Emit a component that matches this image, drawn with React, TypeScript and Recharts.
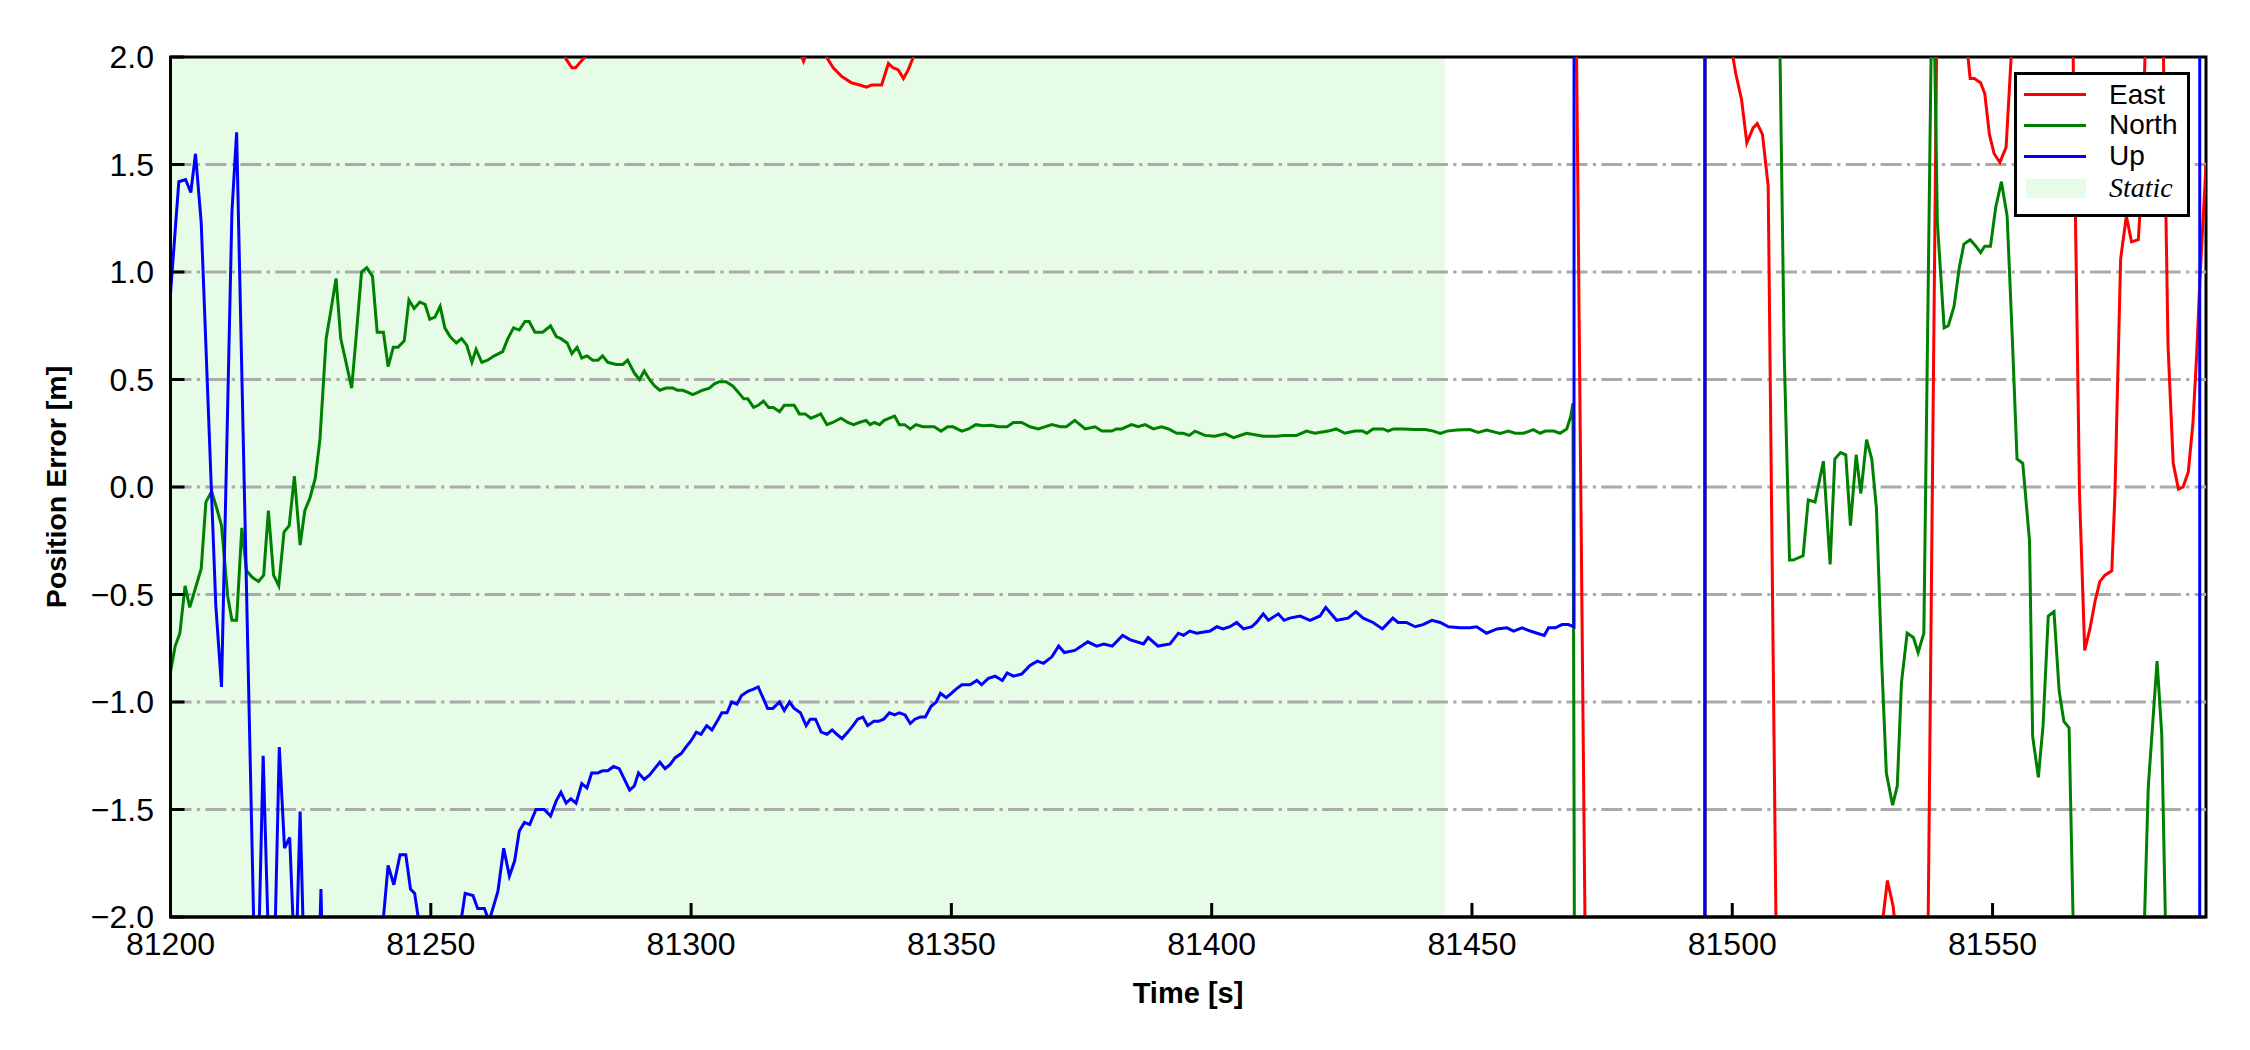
import React from "react";
import {
  LineChart,
  Line,
  XAxis,
  YAxis,
  ReferenceArea,
} from "recharts";

// time axis [s] and error axis [m]
const xTicks = [81200, 81250, 81300, 81350, 81400, 81450, 81500, 81550];
const yTicks = [-2, -1.5, -1, -0.5, 0, 0.5, 1, 1.5, 2];
const xDomain: [number, number] = [81200, 81591];
const staticSpan: [number, number] = [81200, 81444.8];

// East error, [t, m] (values past +-2 are off-scale)
const eastPts: [number, number][] = [
  [81200, 2.6], [81230, 2.4], [81260, 2.2], [81274.5, 2.06], [81276.0, 1.99],
  [81277.1, 1.95], [81277.8, 1.95], [81279.6, 2.0], [81282, 2.12], [81300, 2.3],
  [81316, 2.15], [81320.8, 2.03], [81321.6, 1.98], [81322.4, 2.03], [81324.5, 2.04],
  [81326.0, 2.0], [81327.3, 1.95], [81328.9, 1.91], [81330.8, 1.88], [81332.4, 1.87],
  [81333.7, 1.86], [81334.7, 1.87], [81336.6, 1.87], [81337.9, 1.97], [81338.8, 1.95],
  [81339.8, 1.94], [81340.8, 1.9], [81341.7, 1.94], [81342.7, 2.0], [81345, 2.2],
  [81370, 2.45], [81400, 2.5], [81440, 2.4], [81469.5, 2.3], [81470, 2.25],
  [81472, -2.75], [81480, -3.6], [81494.7, -30], [81494.8, 30], [81499.5, 2.1],
  [81500.2, 1.99], [81500.7, 1.92], [81501.8, 1.8], [81502.8, 1.6], [81504.0, 1.67],
  [81504.8, 1.69], [81505.8, 1.64], [81506.9, 1.4], [81509, -3.4], [81520, -3.8],
  [81528, -2.2], [81529.8, -1.83], [81530.9, -1.95], [81532, -2.2], [81537, -3.6],
  [81540, 3.9], [81544, 2.3], [81545.7, 1.9], [81546.5, 1.9], [81547.7, 1.88],
  [81548.5, 1.83], [81549.4, 1.64], [81550.3, 1.55], [81551.4, 1.51], [81552.6, 1.58],
  [81554.5, 2.4], [81560, 3.2], [81565, 2.8], [81566.7, -0.03], [81567.7, -0.76],
  [81568.7, -0.66], [81569.7, -0.53], [81570.6, -0.44], [81571.6, -0.41], [81572.9, -0.39],
  [81573.5, -0.04], [81574.6, 1.06], [81575.7, 1.26], [81576.7, 1.14], [81578.0, 1.15],
  [81578.6, 1.39], [81579.5, 2.2], [81581, 2.8], [81582.5, 2.5], [81583.7, 0.66],
  [81584.7, 0.11], [81585.7, -0.01], [81586.6, 0.0], [81587.6, 0.07], [81588.5, 0.3],
  [81589.2, 0.61], [81589.8, 0.95], [81591, 1.5],
];

// North error
const northPts: [number, number][] = [
  [81200, -0.86], [81200.9, -0.74], [81201.8, -0.68], [81202.8, -0.46], [81203.7, -0.56],
  [81204.8, -0.47], [81205.9, -0.38], [81206.8, -0.07], [81207.9, -0.02], [81208.9, -0.1],
  [81209.8, -0.18], [81211.0, -0.51], [81211.8, -0.62], [81212.7, -0.62], [81213.7, -0.19],
  [81214.6, -0.39], [81215.7, -0.42], [81216.9, -0.44], [81217.9, -0.41], [81218.8, -0.11],
  [81219.8, -0.41], [81220.8, -0.46], [81221.8, -0.21], [81222.8, -0.18], [81223.8, 0.05],
  [81224.9, -0.27], [81225.8, -0.11], [81226.8, -0.05], [81227.8, 0.04], [81228.7, 0.22],
  [81229.9, 0.69], [81230.8, 0.82], [81231.8, 0.97], [81232.7, 0.69], [81233.8, 0.57],
  [81234.8, 0.46], [81235.7, 0.71], [81236.7, 1.0], [81237.7, 1.02], [81238.8, 0.98],
  [81239.7, 0.72], [81240.9, 0.72], [81241.8, 0.56], [81242.8, 0.65], [81243.7, 0.65],
  [81244.9, 0.68], [81245.8, 0.87], [81246.8, 0.83], [81247.9, 0.86], [81248.9, 0.85],
  [81249.8, 0.78], [81250.8, 0.79], [81251.8, 0.84], [81252.7, 0.74], [81253.7, 0.7],
  [81254.9, 0.67], [81255.9, 0.69], [81256.9, 0.66], [81257.9, 0.58], [81258.7, 0.64],
  [81259.8, 0.58], [81260.9, 0.59], [81262.2, 0.61], [81263.8, 0.63], [81264.8, 0.69],
  [81265.9, 0.74], [81267.0, 0.73], [81268.1, 0.77], [81268.9, 0.77], [81270.0, 0.72],
  [81271.5, 0.72], [81273.0, 0.75], [81274.1, 0.7], [81275.0, 0.69], [81276.2, 0.67],
  [81277.1, 0.62], [81278.1, 0.65], [81279.0, 0.6], [81280.0, 0.61], [81281.1, 0.59],
  [81282.1, 0.59], [81283.0, 0.61], [81284.0, 0.58], [81285.6, 0.57], [81286.9, 0.57],
  [81287.8, 0.59], [81289.1, 0.53], [81290.1, 0.5], [81291.0, 0.54], [81292.0, 0.5],
  [81293.0, 0.47], [81294.0, 0.45], [81295.2, 0.46], [81296.5, 0.46], [81297.4, 0.45],
  [81298.4, 0.45], [81299.4, 0.44], [81300.3, 0.43], [81301.3, 0.44], [81302.2, 0.45],
  [81303.5, 0.46], [81304.5, 0.48], [81305.4, 0.49], [81306.7, 0.49], [81308.0, 0.47],
  [81309.1, 0.44], [81310.1, 0.41], [81310.9, 0.41], [81312.0, 0.37], [81312.9, 0.38],
  [81313.9, 0.4], [81314.9, 0.37], [81315.8, 0.37], [81317.0, 0.35], [81317.9, 0.38],
  [81318.9, 0.38], [81319.8, 0.38], [81320.8, 0.34], [81321.9, 0.34], [81323.0, 0.32],
  [81324.0, 0.33], [81324.9, 0.34], [81326.1, 0.29], [81327.2, 0.3], [81328.8, 0.32],
  [81330.1, 0.3], [81331.2, 0.29], [81332.3, 0.3], [81333.6, 0.31], [81334.4, 0.29],
  [81335.2, 0.3], [81336.2, 0.29], [81337.1, 0.31], [81338.1, 0.32], [81339.1, 0.33],
  [81340.0, 0.29], [81341.0, 0.29], [81342.1, 0.27], [81343.2, 0.29], [81344.5, 0.28],
  [81345.5, 0.28], [81346.7, 0.28], [81348.0, 0.26], [81349.3, 0.28], [81350.3, 0.28],
  [81352.0, 0.26], [81353.3, 0.27], [81354.7, 0.29], [81356.1, 0.285], [81357.7, 0.287],
  [81359.0, 0.28], [81360.7, 0.28], [81361.9, 0.3], [81363.5, 0.3], [81365.1, 0.28],
  [81366.7, 0.27], [81369.3, 0.29], [81370.9, 0.28], [81372.1, 0.28], [81373.7, 0.31],
  [81375.7, 0.27], [81377.6, 0.28], [81378.9, 0.26], [81380.8, 0.26], [81381.7, 0.27],
  [81382.7, 0.27], [81384.6, 0.29], [81385.9, 0.28], [81387.2, 0.29], [81388.8, 0.27],
  [81390.4, 0.28], [81391.7, 0.27], [81393.3, 0.25], [81394.5, 0.25], [81395.7, 0.24],
  [81396.8, 0.26], [81398.7, 0.24], [81400.6, 0.236], [81402.6, 0.247], [81404.2, 0.23],
  [81406.7, 0.25], [81409.9, 0.236], [81412.5, 0.236], [81413.8, 0.24], [81416.3, 0.24],
  [81418.2, 0.26], [81419.8, 0.25], [81422.4, 0.26], [81423.9, 0.27], [81425.6, 0.25],
  [81427.5, 0.26], [81429.0, 0.26], [81429.8, 0.25], [81431.0, 0.27], [81432.9, 0.27],
  [81433.9, 0.26], [81434.9, 0.27], [81436.8, 0.27], [81438.8, 0.267], [81441.0, 0.267],
  [81442.6, 0.26], [81443.9, 0.249], [81445.2, 0.26], [81447.1, 0.265], [81449.6, 0.267],
  [81451.2, 0.254], [81452.8, 0.265], [81455.4, 0.249], [81457.0, 0.26], [81458.3, 0.25],
  [81459.9, 0.25], [81461.8, 0.267], [81463.1, 0.25], [81464.1, 0.26], [81465.7, 0.26],
  [81466.9, 0.25], [81468.2, 0.27], [81469.0, 0.33], [81469.4, 0.39], [81470, -5],
  [81494.7, -30], [81494.8, 30], [81509, 2.3], [81510, 0.6], [81511, -0.34],
  [81511.7, -0.34], [81513.6, -0.32], [81514.6, -0.06], [81515.9, -0.07], [81517.5, 0.12],
  [81518.8, -0.36], [81519.7, 0.13], [81520.8, 0.16], [81521.8, 0.15], [81522.7, -0.18],
  [81523.8, 0.15], [81524.7, -0.03], [81525.8, 0.22], [81526.8, 0.13], [81527.7, -0.1],
  [81528.7, -0.81], [81529.6, -1.33], [81530.8, -1.48], [81531.7, -1.39], [81532.5, -0.91],
  [81533.6, -0.68], [81534.8, -0.7], [81535.7, -0.77], [81536.8, -0.68], [81538.5, 2.6],
  [81539.4, 1.23], [81540.7, 0.74], [81541.5, 0.75], [81542.6, 0.84], [81543.6, 1.02],
  [81544.5, 1.13], [81545.7, 1.15], [81546.8, 1.12], [81547.7, 1.09], [81548.5, 1.12],
  [81549.6, 1.12], [81550.6, 1.3], [81551.7, 1.42], [81552.8, 1.26], [81553.8, 0.69],
  [81554.7, 0.13], [81555.8, 0.11], [81557.1, -0.25], [81557.7, -1.16], [81558.8, -1.35],
  [81559.7, -1.11], [81560.7, -0.6], [81561.8, -0.58], [81562.8, -0.95], [81563.7, -1.09],
  [81564.7, -1.12], [81566.5, -3.2], [81572, -3.5], [81578.5, -2.6], [81579.9, -1.4],
  [81581.6, -0.81], [81582.5, -1.15], [81584, -3.0], [81591, -3.5],
];

// Up error
const upPts: [number, number][] = [
  [81200, 0.9], [81201.6, 1.42], [81202.9, 1.43], [81203.9, 1.37], [81204.8, 1.55],
  [81205.9, 1.23], [81208.7, -0.55], [81209.8, -0.93], [81211.8, 1.28], [81212.7, 1.65],
  [81216.5, -2.6], [81217.8, -1.25], [81219.5, -2.7], [81220.9, -1.21], [81221.9, -1.68],
  [81222.9, -1.63], [81224.0, -2.3], [81224.9, -1.51], [81226.3, -2.8], [81228.2, -2.5],
  [81228.9, -1.87], [81229.6, -2.6], [81233, -3.1], [81237, -2.9], [81239.8, -2.3],
  [81241.8, -1.76], [81242.9, -1.85], [81244.1, -1.71], [81245.2, -1.71], [81246.1, -1.87],
  [81246.9, -1.89], [81248.8, -2.2], [81252, -2.5], [81255.0, -2.15], [81256.6, -1.89],
  [81258.1, -1.9], [81259.0, -1.96], [81260.3, -1.96], [81261.2, -2.02], [81262.9, -1.88],
  [81264.0, -1.68], [81265.1, -1.81], [81266.1, -1.74], [81267.0, -1.6], [81268.0, -1.56],
  [81269.0, -1.57], [81270.2, -1.5], [81271.8, -1.5], [81273.0, -1.53], [81274.1, -1.46],
  [81275.0, -1.42], [81276.0, -1.47], [81276.9, -1.45], [81277.9, -1.47], [81279.0, -1.38],
  [81280.0, -1.4], [81280.9, -1.33], [81282.1, -1.33], [81283.0, -1.32], [81284.0, -1.32],
  [81285.1, -1.3], [81286.2, -1.31], [81287.2, -1.36], [81288.2, -1.41], [81289.1, -1.39],
  [81289.9, -1.33], [81291.0, -1.36], [81292.0, -1.34], [81293.0, -1.31], [81294.0, -1.28],
  [81295.0, -1.31], [81296.0, -1.29], [81296.9, -1.26], [81298.1, -1.24], [81299.0, -1.21],
  [81300.0, -1.18], [81301.0, -1.14], [81301.9, -1.15], [81303.0, -1.11], [81304.0, -1.13],
  [81305.0, -1.09], [81305.9, -1.05], [81306.9, -1.05], [81307.8, -1.0], [81308.8, -1.01],
  [81309.7, -0.97], [81310.9, -0.95], [81312.0, -0.94], [81312.9, -0.93], [81313.8, -0.98],
  [81314.7, -1.03], [81315.7, -1.03], [81317.0, -1.0], [81317.9, -1.04], [81318.9, -1.0],
  [81319.8, -1.03], [81321.0, -1.05], [81322.1, -1.11], [81322.9, -1.08], [81323.9, -1.08],
  [81325.0, -1.14], [81326.1, -1.15], [81327.1, -1.13], [81328.0, -1.15], [81329.0, -1.17],
  [81330.1, -1.14], [81331.1, -1.11], [81332.0, -1.08], [81333.0, -1.07], [81333.9, -1.11],
  [81335.1, -1.09], [81336.0, -1.09], [81337.0, -1.08], [81338.1, -1.05], [81339.1, -1.06],
  [81340.0, -1.05], [81341.1, -1.06], [81342.1, -1.1], [81343.0, -1.08], [81344.0, -1.07],
  [81345.0, -1.07], [81346.1, -1.02], [81347.1, -1.0], [81347.9, -0.96], [81349.0, -0.98],
  [81350.0, -0.96], [81350.9, -0.94], [81352.0, -0.92], [81353.6, -0.92], [81354.9, -0.9],
  [81355.8, -0.92], [81357.1, -0.89], [81358.4, -0.88], [81359.8, -0.9], [81360.7, -0.865],
  [81361.9, -0.88], [81363.5, -0.87], [81365.1, -0.83], [81366.5, -0.81], [81367.7, -0.82],
  [81369.3, -0.79], [81370.6, -0.74], [81371.7, -0.77], [81373.7, -0.76], [81375.0, -0.74],
  [81376.2, -0.72], [81377.9, -0.74], [81379.3, -0.73], [81380.9, -0.74], [81382.9, -0.69],
  [81384.3, -0.71], [81386.9, -0.73], [81387.8, -0.7], [81389.7, -0.74], [81392.0, -0.73],
  [81393.6, -0.68], [81394.6, -0.69], [81395.8, -0.67], [81397.1, -0.68], [81399.7, -0.67],
  [81401.0, -0.65], [81402.2, -0.66], [81403.5, -0.65], [81404.8, -0.63], [81406.1, -0.66],
  [81407.7, -0.65], [81408.6, -0.63], [81409.9, -0.59], [81410.9, -0.62], [81412.8, -0.59],
  [81413.9, -0.62], [81415.0, -0.61], [81417.0, -0.6], [81418.9, -0.62], [81420.8, -0.6],
  [81421.9, -0.56], [81424.0, -0.62], [81426.2, -0.61], [81427.7, -0.58], [81429.1, -0.61],
  [81431.0, -0.63], [81432.8, -0.66], [81434.8, -0.61], [81435.8, -0.63], [81437.4, -0.63],
  [81439.1, -0.65], [81440.6, -0.64], [81442.3, -0.62], [81443.9, -0.63], [81445.5, -0.65],
  [81447.7, -0.655], [81449.6, -0.655], [81450.9, -0.65], [81452.8, -0.68], [81454.8, -0.66],
  [81456.7, -0.655], [81458.0, -0.67], [81459.6, -0.655], [81461.2, -0.67], [81462.5, -0.68],
  [81463.9, -0.69], [81464.7, -0.655], [81466.0, -0.655], [81467.3, -0.64], [81468.5, -0.64],
  [81469.6, -0.65], [81469.7, 60], [81494.7, 60], [81494.8, -60], [81589.75, -60],
  [81589.85, 60], [81591, 60],
];

const toRows = (pts: [number, number][]) => pts.map(([t, v]) => ({ t, v }));

const series = [
  { name: "East", color: "#ff0000", data: toRows(eastPts) },
  { name: "North", color: "#008000", data: toRows(northPts) },
  { name: "Up", color: "#0000ff", data: toRows(upPts) },
];

// horizontal grid rows, drawn above the static shading and under the data
const gridRows = yTicks
  .filter((y) => Math.abs(y) < 2)
  .map((y) => ({ y, data: [{ t: xDomain[0], v: y }, { t: xDomain[1], v: y }] }));

const staticFill = "#e7fce7";
const sans = "'Liberation Sans', Arial, Helvetica, sans-serif";
const fmt = (v: number) => v.toFixed(1).replace("-", "\u2212");

export default function App() {
  return (
    <div
      style={{
        position: "absolute",
        left: 0,
        top: 0,
        width: 2250,
        height: 1050,
        background: "#fff",
        fontFamily: sans,
      }}
    >
      <LineChart
        width={2250}
        height={1050}
        margin={{ top: 57, right: 44, bottom: 83, left: 100 }}
      >
        {/* static period */}
        <ReferenceArea
          x1={staticSpan[0]}
          x2={staticSpan[1]}
          y1={-2}
          y2={2}
          fill={staticFill}
          fillOpacity={1}
          stroke="none"
        />
        <XAxis
          type="number"
          dataKey="t"
          domain={xDomain}
          ticks={xTicks}
          interval={0}
          allowDataOverflow
          height={50}
          tickSize={-14}
          tickMargin={29}
          axisLine={{ stroke: "#000", strokeWidth: 3 }}
          tickLine={{ stroke: "#000", strokeWidth: 3 }}
          tick={{ fontSize: 32, fill: "#000", fontFamily: sans }}
        />
        <YAxis
          type="number"
          domain={[-2, 2]}
          ticks={yTicks}
          interval={0}
          allowDataOverflow
          width={70.5}
          tickSize={-14}
          tickMargin={30.5}
          tickFormatter={fmt}
          axisLine={{ stroke: "#000", strokeWidth: 3 }}
          tickLine={{ stroke: "#000", strokeWidth: 3 }}
          tick={{ fontSize: 32, fill: "#000", fontFamily: sans }}
        />
        {gridRows.map((g) => (
          <Line
            key={`grid${g.y}`}
            data={g.data}
            dataKey="v"
            type="linear"
            stroke="#aaaaaa"
            strokeWidth={3.2}
            strokeDasharray="21 5.3 3.3 5.3"
            dot={false}
            activeDot={false}
            legendType="none"
            isAnimationActive={false}
          />
        ))}
        {series.map((s) => (
          <Line
            key={s.name}
            data={s.data}
            dataKey="v"
            name={s.name}
            type="linear"
            stroke={s.color}
            strokeWidth={3}
            dot={false}
            activeDot={false}
            isAnimationActive={false}
          />
        ))}
        {/* axes frame */}
        <ReferenceArea
          x1={xDomain[0]}
          x2={xDomain[1]}
          y1={-2}
          y2={2}
          fill="none"
          stroke="#000"
          strokeWidth={3}
        />
      </LineChart>

      {/* axis titles */}
      <div
        style={{
          position: "absolute",
          left: 1188,
          top: 993,
          transform: "translate(-50%, -50%)",
          fontSize: 29,
          fontWeight: "bold",
          whiteSpace: "nowrap",
        }}
      >
        Time [s]
      </div>
      <div
        style={{
          position: "absolute",
          left: 56,
          top: 487,
          transform: "translate(-50%, -50%) rotate(-90deg)",
          fontSize: 28.5,
          fontWeight: "bold",
          whiteSpace: "nowrap",
        }}
      >
        Position Error [m]
      </div>

      {/* legend */}
      <div
        style={{
          position: "absolute",
          left: 2014,
          top: 72,
          width: 176,
          height: 145,
          boxSizing: "border-box",
          border: "3px solid #000",
          background: "#fff",
        }}
      >
        {series.map((s, i) => (
          <React.Fragment key={s.name}>
            <div
              style={{
                position: "absolute",
                left: 7,
                top: 18 + i * 31,
                width: 62,
                height: 3,
                background: s.color,
              }}
            />
            <div
              style={{
                position: "absolute",
                left: 92,
                top: 5.5 + i * 30.5,
                fontSize: 28,
                lineHeight: "28px",
                whiteSpace: "nowrap",
              }}
            >
              {s.name}
            </div>
          </React.Fragment>
        ))}
        <div
          style={{
            position: "absolute",
            left: 9,
            top: 104,
            width: 60,
            height: 18.5,
            background: staticFill,
          }}
        />
        <div
          style={{
            position: "absolute",
            left: 92,
            top: 98.8,
            fontSize: 28,
            lineHeight: "28px",
            fontStyle: "italic",
            fontFamily: "'Liberation Serif', 'Times New Roman', serif",
            whiteSpace: "nowrap",
          }}
        >
          Static
        </div>
      </div>
    </div>
  );
}
